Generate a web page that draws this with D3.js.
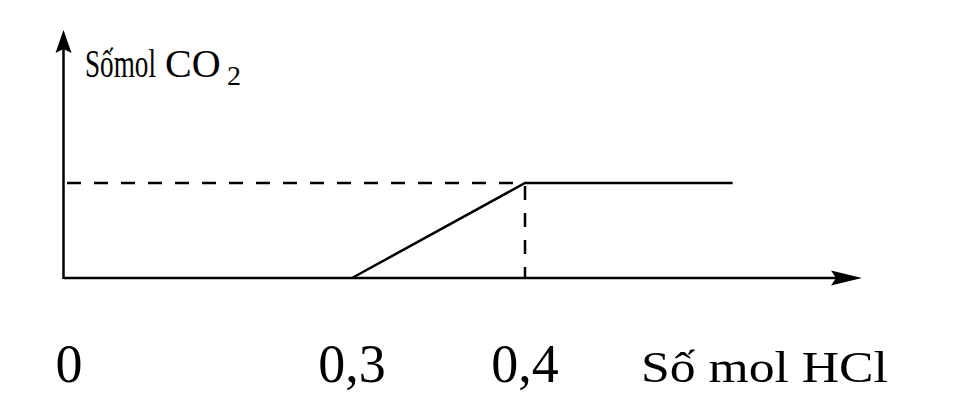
<!DOCTYPE html>
<html>
<head>
<meta charset="utf-8">
<script src="https://cdn.jsdelivr.net/npm/d3@7"></script>
<style>
  body { margin: 0; background: #fff; }
  text { font-family: "Liberation Serif", "Times New Roman", serif; fill: #000; }
</style>
</head>
<body>
<div class="svg"></div>
<script>
// x values (mol HCl) and matching tick labels
var xTicks = [0, 0.3, 0.4];
var xTickLabels = ['0', '0,3', '0,4'];

// CO2 curve
var curveX = [0.3, 0.4, 0.52];
var curveY = [0, 0.1, 0.1];

// the guide lines go out to the kink
var kinkX = 0.4, kinkY = 0.1;

var width = 977, height = 401;

// picture is not to scale, so piecewise linear scale
var x = d3.scaleLinear().domain([0, 0.3, 0.4]).range([64, 352, 525]);
var y = d3.scaleLinear().domain([0, 0.1]).range([278, 183]);

var svg = d3.select('body .svg').append('svg')
	.attr('width', width)
	.attr('height', height);

var stroke = 2.5;

// axes
svg.append('line')
	.attr('x1', x(0)).attr('y1', y(0))
	.attr('x2', 845).attr('y2', y(0))
	.attr('stroke', '#000').attr('stroke-width', stroke);
svg.append('line')
	.attr('x1', x(0) - 0.5).attr('y1', y(0) + 1)
	.attr('x2', x(0) - 0.5).attr('y2', 45)
	.attr('stroke', '#000').attr('stroke-width', stroke);

// arrow heads
var ax = 862, ay = y(0);
svg.append('path')
	.attr('d', 'M' + ax + ',' + ay + ' L' + (ax - 31) + ',' + (ay - 7.5) +
		' L' + (ax - 26) + ',' + ay + ' L' + (ax - 31) + ',' + (ay + 7.5) + ' Z')
	.attr('fill', '#000');
var bx = x(0) - 0.5, by = 30;
svg.append('path')
	.attr('d', 'M' + bx + ',' + by + ' L' + (bx - 8) + ',' + (by + 23) +
		' L' + bx + ',' + (by + 19) + ' L' + (bx + 8) + ',' + (by + 23) + ' Z')
	.attr('fill', '#000');

// dashed guides
svg.append('line')
	.attr('x1', x(0) + 3).attr('y1', y(kinkY))
	.attr('x2', x(kinkX)).attr('y2', y(kinkY))
	.attr('stroke', '#000').attr('stroke-width', stroke)
	.attr('stroke-dasharray', '14 13');
svg.append('line')
	.attr('x1', x(kinkX)).attr('y1', y(kinkY) + 3)
	.attr('x2', x(kinkX)).attr('y2', y(0))
	.attr('stroke', '#000').attr('stroke-width', stroke)
	.attr('stroke-dasharray', '14 13');

// curve
var line = d3.line()
	.x(function(d) { return x(d[0]); })
	.y(function(d) { return y(d[1]); });
svg.append('path')
	.datum(d3.zip(curveX, curveY))
	.attr('d', line)
	.attr('fill', 'none')
	.attr('stroke', '#000')
	.attr('stroke-width', stroke);

// tick labels
svg.selectAll('text.tick')
	.data(xTicks)
.enter().append('text')
	.attr('class', 'tick')
	.attr('x', function(d, i) { return x(d) + (i === 0 ? 5 : 0); })
	.attr('y', 382)
	.attr('text-anchor', 'middle')
	.style('font-size', '54px')
	.text(function(d, i) { return xTickLabels[i]; });

// squeeze a text sideways so it fits a given width
function squeezed(str, px, py, size, w) {
	var t = svg.append('text')
		.style('font-size', size + 'px')
		.text(str);
	var sx = w / t.node().getComputedTextLength();
	t.attr('transform', 'translate(' + px + ',' + py + ') scale(' + sx + ',1)');
	return t;
}

// axis titles
squeezed('Số mol HCl', 641, 382, 45, 247);

// y title, written as separate pieces like the original
squeezed('Sốmol', 85, 77, 40, 71);
svg.append('text')
	.attr('x', 165).attr('y', 77)
	.style('font-size', '40px')
	.text('CO');
svg.append('text')
	.attr('x', 227).attr('y', 85)
	.style('font-size', '28px')
	.text('2');
</script>
</body>
</html>
